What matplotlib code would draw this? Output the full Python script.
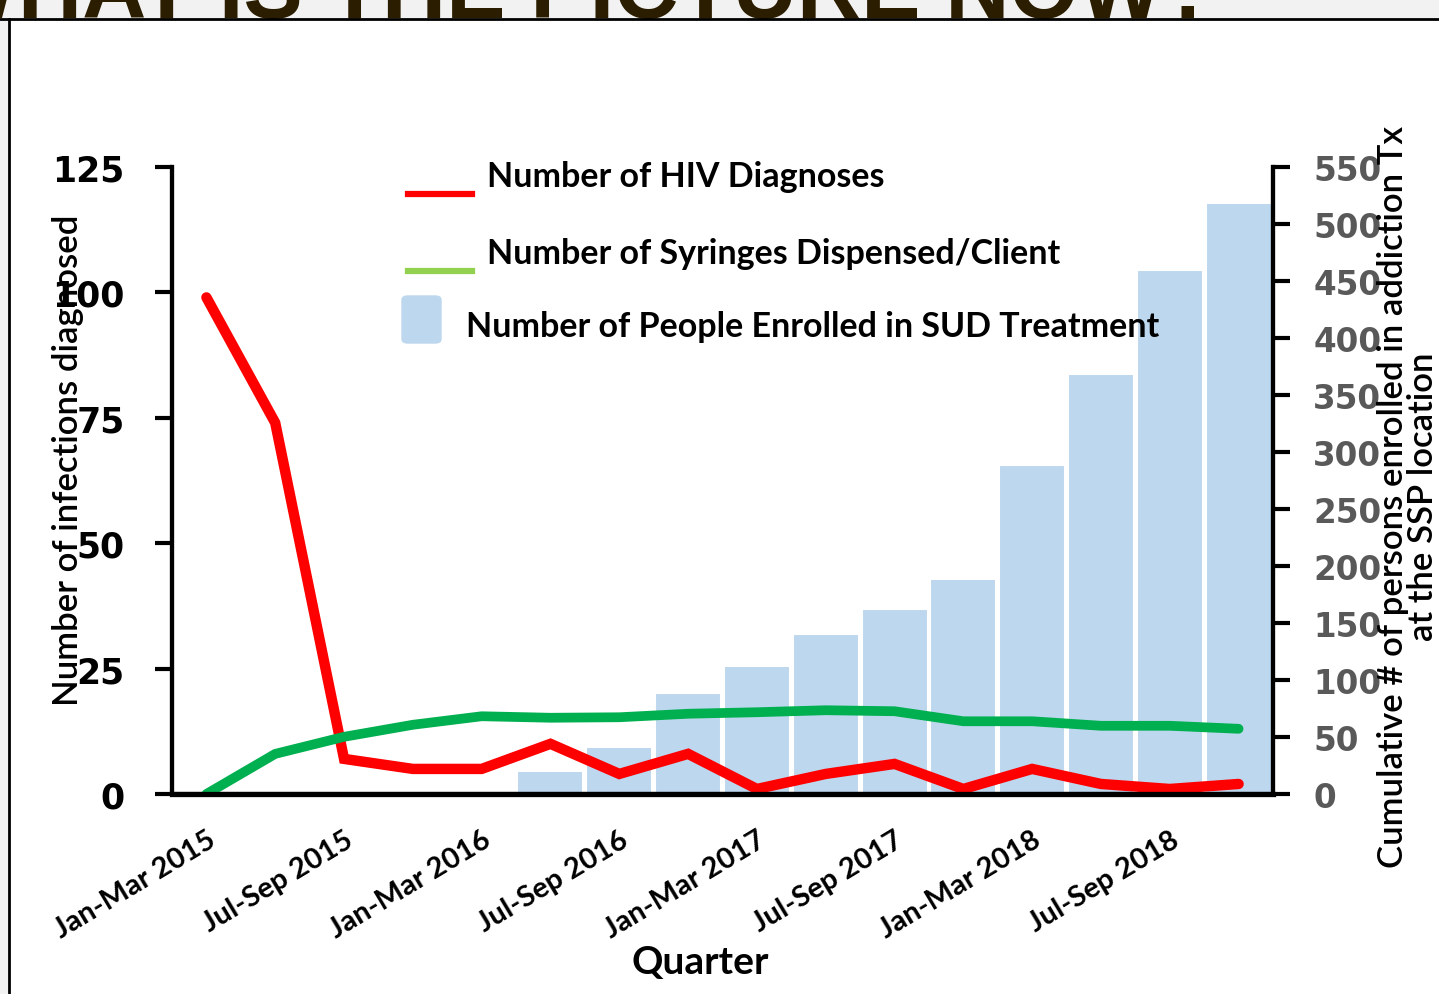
import numpy as np
import matplotlib
matplotlib.use("Agg")
import matplotlib.pyplot as plt
from matplotlib.lines import Line2D
from matplotlib.patches import FancyBboxPatch, Rectangle

# --- data ---
quarters = ["Jan-Mar 2015", "Apr-Jun 2015", "Jul-Sep 2015", "Oct-Dec 2015",
            "Jan-Mar 2016", "Apr-Jun 2016", "Jul-Sep 2016", "Oct-Dec 2016",
            "Jan-Mar 2017", "Apr-Jun 2017", "Jul-Sep 2017", "Oct-Dec 2017",
            "Jan-Mar 2018", "Apr-Jun 2018", "Jul-Sep 2018", "Oct-Dec 2018"]
hiv_diagnoses = [99, 74, 7, 5, 5, 10, 4, 8, 1, 4, 6, 1, 5, 2, 1, 2]
syringes_per_client = [0, 8, 11.4, 13.8, 15.5, 15.2, 15.3, 16, 16.3, 16.7,
                       16.5, 14.5, 14.5, 13.6, 13.6, 13]
sud_enrolled = [0, 0, 0, 0, 0, 20, 41, 89, 112, 140, 162, 189, 289, 368, 460, 518]

left_ticks = [0, 25, 50, 75, 100, 125]
right_ticks = list(range(0, 551, 50))

RED = "#FF0000"
GREEN = "#00B050"
LEGEND_GREEN = "#92D050"
BLUE = "#BDD7EE"
FONT = "Lato"

W, H = 1439, 995
fig = plt.figure(figsize=(W / 100, H / 100), dpi=100)
fig.patch.set_facecolor("white")


def px(x, y):
    """pixel position (from top-left) -> figure fraction"""
    return x / W, 1 - y / H


# slide frame remnants: grey strip on top/left and cropped title
fig.add_artist(Rectangle((0, px(0, 19)[1]), 1, 1, transform=fig.transFigure,
                         color="#F2F2F2", zorder=0))
fig.add_artist(Rectangle((0, 0), px(9, 0)[0], 1, transform=fig.transFigure,
                         color="#F2F2F2", zorder=0))
fig.text(*px(575, 18), "WHAT IS THE PICTURE NOW?", ha="center", va="baseline",
         fontsize=64, fontweight="bold", color="#2B1D00", family="Liberation Sans",
         zorder=1)
fig.add_artist(Line2D([0, 1], [px(0, 20)[1]] * 2, transform=fig.transFigure,
                      color="black", lw=2, zorder=2))
fig.add_artist(Line2D([px(9, 0)[0]] * 2, [0, px(0, 20)[1]], transform=fig.transFigure,
                      color="black", lw=2, zorder=2))

x = np.arange(len(quarters))

l, b = px(172, 795)
r, t = px(1273, 168)
ax = fig.add_axes([l, b, r - l, t - b])
ax2 = ax.twinx()
ax.set_zorder(ax2.get_zorder() + 1)
ax.patch.set_visible(False)

# bars on the right axis
ax2.bar(x, sud_enrolled, width=0.96, color=BLUE, edgecolor="white", linewidth=1.5)
ax2.set_ylim(0, 550)
ax2.set_yticks(right_ticks)

# lines on the left axis
ax.plot(x, hiv_diagnoses, color=RED, lw=7.5, solid_capstyle="round", solid_joinstyle="miter")
ax.plot(x, syringes_per_client, color=GREEN, lw=7, solid_capstyle="round")
ax.set_ylim(0, 125)
ax.set_xlim(-0.5, 15.5)
ax.set_yticks(left_ticks)
ax.set_xticks(x[::2])
ax.set_xticklabels(quarters[::2], rotation=31, ha="right", va="top",
                   rotation_mode="anchor", family=FONT, fontweight="bold", fontsize=21)
ax.tick_params(axis="x", length=0, pad=23)

for a in (ax, ax2):
    a.spines["top"].set_visible(False)
    for s in ("left", "right", "bottom"):
        a.spines[s].set_linewidth(3)
        a.spines[s].set_color("black")
ax.spines["bottom"].set_linewidth(3.8)

ax.tick_params(axis="y", length=12, width=3, pad=22, labelsize=25)
for lab in ax.get_yticklabels():
    lab.set_fontweight("bold")
    lab.set_family("DejaVu Sans")
ax2.tick_params(axis="y", length=12, width=3, pad=17, labelsize=23.5, labelcolor="#595959")
for lab in ax2.get_yticklabels():
    lab.set_fontweight("bold")
    lab.set_family("DejaVu Sans")

# axis titles
fig.text(*px(68, 460), "Number of infections diagnosed", rotation=90, ha="center",
         va="center", fontsize=25, family=FONT, fontweight="semibold",
         color="black", zorder=5)
fig.text(*px(1408, 497), "Cumulative # of persons enrolled in addiction Tx\nat the SSP location",
         rotation=90, ha="center", va="center", fontsize=25, family=FONT,
         fontweight="semibold", color="black", linespacing=0.95, zorder=5)
fig.text(*px(700, 963), "Quarter", ha="center", va="center", fontsize=28,
         family=FONT, fontweight="bold")

# hand-placed legend
leg_items = [("line", RED, 195, 177, 487, "Number of HIV Diagnoses"),
             ("line", LEGEND_GREEN, 272, 254, 487, "Number of Syringes Dispensed/Client"),
             ("patch", BLUE, 320, 327, 466, "Number of People Enrolled in SUD Treatment")]
for kind, col, ys, yt, xt, label in leg_items:
    if kind == "line":
        x0, y0 = px(408, ys)
        x1, _ = px(472, ys)
        fig.add_artist(Line2D([x0, x1], [y0, y0], transform=fig.transFigure,
                              color=col, lw=4.5))
    else:
        x0, y0 = px(402, 344)
        x1, y1 = px(441, 297)
        fig.add_artist(FancyBboxPatch((x0, y0), x1 - x0, y1 - y0,
                                      boxstyle="round,pad=0,rounding_size=0.004",
                                      transform=fig.transFigure, color=col))
    fig.text(*px(xt, yt), label, ha="left", va="center", fontsize=24.5,
             family=FONT, fontweight="bold")

fig.savefig("out.png", dpi=100)
